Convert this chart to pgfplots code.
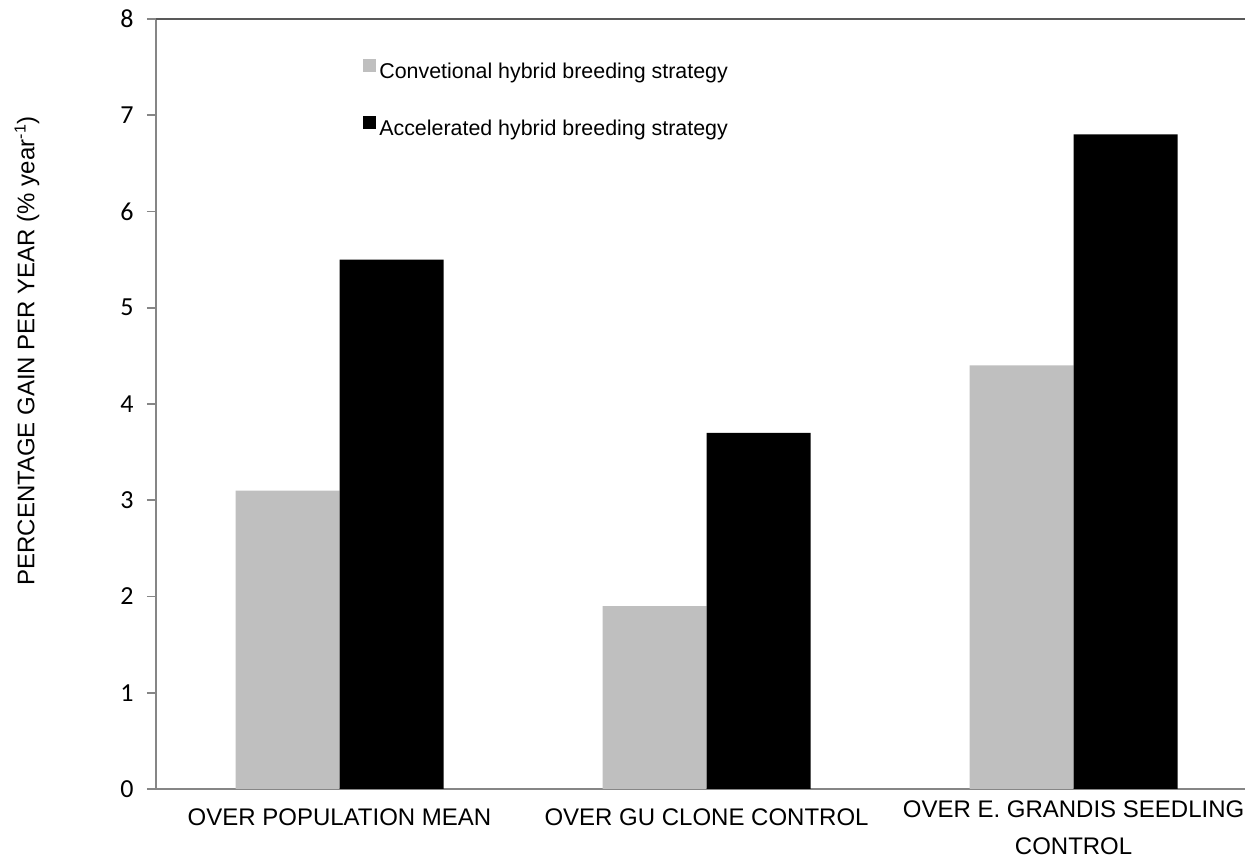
\documentclass[border=0pt]{standalone}
\usepackage{fontspec}
\setmainfont{Liberation Sans}
\newfontfamily\carlito{Carlito}
\usepackage{pgfplots}
\pgfplotsset{compat=1.18}
\usetikzlibrary{calc}
\definecolor{barGray}{HTML}{BFBFBF}
\definecolor{axGray}{HTML}{868686}
\definecolor{topGray}{HTML}{595959}
\begin{document}
\begin{tikzpicture}
\begin{axis}[
  scale only axis,
  width=544.5pt, height=385pt,
  ybar=0pt, bar width=52pt,
  xmin=-0.5, xmax=2.467,
  ymin=0, ymax=8,
  ytick={0,1,2,3,4,5,6,7,8},
  xtick={0,1,2},
  xticklabels={{OVER POPULATION MEAN},{OVER GU CLONE CONTROL},{\raisebox{4pt}[8.6pt][22pt]{\begin{tabular}[t]{@{}c@{}}OVER E. GRANDIS SEEDLING\\CONTROL\end{tabular}}}},
  axis lines=left,
  axis line style={-, draw=axGray, line width=0.8pt},
  xtick style={draw=none},
  ytick style={draw=axGray, line width=0.8pt},
  tick align=outside,
  major tick length=4.5pt,
  ytick pos=left,
  /pgf/number format/assume math mode=true,
  yticklabel style={font=\carlito\fontsize{13}{15}\selectfont, inner sep=0pt, xshift=-6.5pt},
  xticklabel style={font=\fontsize{12}{18.5}\selectfont, inner sep=0pt, anchor=north, yshift=-5pt},
  ylabel={PERCENTAGE GAIN PER YEAR (\% year\textsuperscript{-1})},
  every axis y label/.style={at={(rel axis cs:-0.1185,0.569)}, rotate=90, anchor=center, font=\fontsize{12}{14}\selectfont},
  legend style={at={(rel axis cs:0.1845,0.9534)}, anchor=north west, draw=none, fill=none,
    font=\fontsize{10.7}{12}\selectfont, row sep=16.5pt, column sep=1.5pt,
    nodes={inner sep=0pt, text height=7.5pt, text depth=2pt}},
  legend cell align=left,
  legend image code/.code={\fill[#1] (0pt,0.55pt) rectangle (6.5pt,7.05pt);},
  clip=false,
]
\addplot[fill=barGray, draw=none] coordinates {(0,3.1) (1,1.9) (2,4.4)};
\addplot[fill=black, draw=none] coordinates {(0,5.5) (1,3.7) (2,6.8)};
\legend{Convetional hybrid breeding strategy, Accelerated hybrid breeding strategy}
\draw[topGray, line width=1pt] (rel axis cs:0,1) -- (rel axis cs:1,1);
\end{axis}
\pgfresetboundingbox
\path ($(current axis.south west)+(-78pt,-36pt)$) rectangle ($(current axis.north east)+(0,9.5pt)$);
\end{tikzpicture}
\end{document}
